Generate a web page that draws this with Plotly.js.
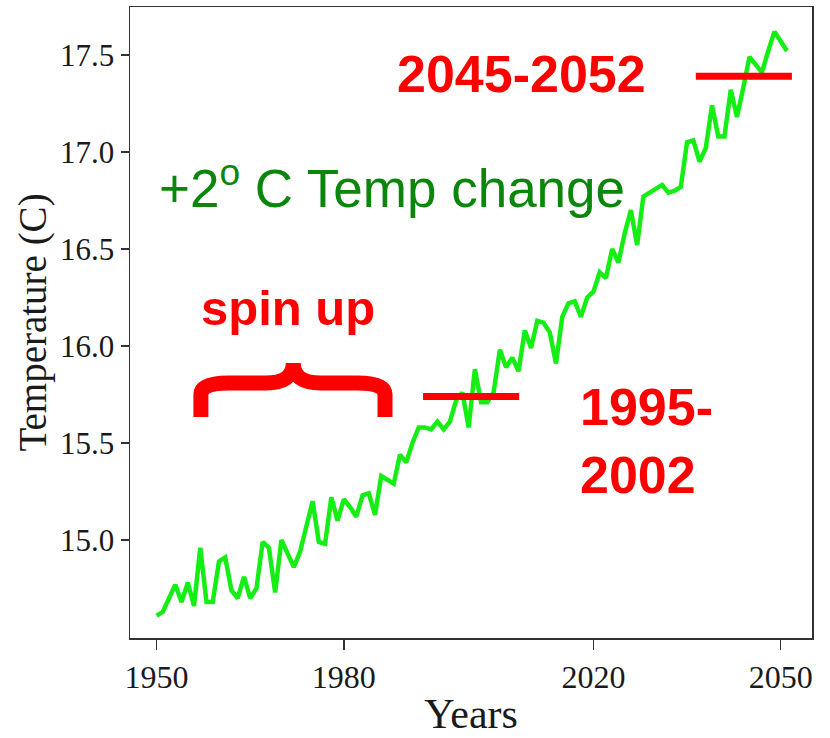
<!DOCTYPE html>
<html>
<head>
<meta charset="utf-8">
<script src="https://cdn.plot.ly/plotly-3.0.1.min.js"></script>
<style>html,body{margin:0;padding:0;background:#fff;}#chart{width:830px;height:738px;}</style>
</head>
<body>
<div id="chart"></div>
<script>
// ---- data ----
const years = [1950,1951,1952,1953,1954,1955,1956,1957,1958,1959,
  1960,1961,1962,1963,1964,1965,1966,1967,1968,1969,
  1970,1971,1972,1973,1974,1975,1976,1977,1978,1979,
  1980,1981,1982,1983,1984,1985,1986,1987,1988,1989,
  1990,1991,1992,1993,1994,1995,1996,1997,1998,1999,
  2000,2001,2002,2003,2004,2005,2006,2007,2008,2009,
  2010,2011,2012,2013,2014,2015,2016,2017,2018,2019,
  2020,2021,2022,2023,2024,2025,2026,2027,2028,2029,
  2030,2031,2032,2033,2034,2035,2036,2037,2038,2039,
  2040,2041,2042,2043,2044,2045,2046,2047,2048,2049,
  2050,2051];
const temperature = [14.61,14.63,14.70,14.77,14.68,14.78,14.66,14.96,14.68,14.68,
  14.89,14.91,14.74,14.70,14.81,14.70,14.75,14.99,14.96,14.73,
  15.00,14.93,14.86,14.94,15.06,15.20,14.99,14.98,15.22,15.10,
  15.21,15.17,15.12,15.23,15.24,15.13,15.33,15.31,15.29,15.44,
  15.40,15.50,15.58,15.58,15.57,15.61,15.57,15.61,15.72,15.76,
  15.58,15.88,15.71,15.71,15.76,15.98,15.89,15.94,15.87,16.08,
  15.99,16.13,16.12,16.07,15.91,16.15,16.22,16.23,16.15,16.25,
  16.28,16.38,16.35,16.50,16.43,16.58,16.70,16.52,16.77,16.79,
  16.81,16.83,16.79,16.80,16.82,17.05,17.06,16.95,17.02,17.24,
  17.08,17.08,17.32,17.18,17.33,17.49,17.45,17.41,17.52,17.62,
  17.57,17.52];
const xTickVals = [1950, 1980, 2020, 2050];
const xTickText = ['1950', '1980', '2020', '2050'];
const yTickVals = [15.0, 15.5, 16.0, 16.5, 17.0, 17.5];
const yTickText = ['15.0', '15.5', '16.0', '16.5', '17.0', '17.5'];

// reference periods (red bars)
const periodA = {x: [1992.7, 2008.1], y: 15.74};
const periodB = {x: [2036.4, 2051.8], y: 17.39};
// spin-up brace extent
const brace = {x0: 1957.1, x1: 1986.6, xm: 1971.9, yBottom: 15.634, yBar: 15.809, yTip: 15.912, dx: 4.4, dy: 0.1};

const labels = {
  temp: '+2<sup>o</sup> C Temp change',
  spin: 'spin up',
  periodA: '1995-<br>2002',
  periodB: '2045-2052'
};

const RED = '#ff0000';
const GREEN_TXT = '#0a870a';
const GREEN_LINE = '#14ee14';

const trace = {
  x: years, y: temperature, type: 'scatter', mode: 'lines',
  line: {color: GREEN_LINE, width: 4.5}, hoverinfo: 'skip'
};

const b = brace;
const bracePath = [
  'M', b.x0, b.yBottom,
  'L', b.x0, b.yBar - b.dy * 0.6,
  'Q', b.x0, b.yBar, b.x0 + b.dx, b.yBar,
  'L', b.xm - b.dx, b.yBar,
  'Q', b.xm, b.yBar, b.xm, b.yTip,
  'Q', b.xm, b.yBar, b.xm + b.dx, b.yBar,
  'L', b.x1 - b.dx, b.yBar,
  'Q', b.x1, b.yBar, b.x1, b.yBar - b.dy * 0.6,
  'L', b.x1, b.yBottom
].join(' ');

const serif = '"Liberation Serif", "Times New Roman", serif';
const sans = '"Liberation Sans", Arial, sans-serif';

const layout = {
  width: 830, height: 738,
  margin: {l: 130, r: 18, t: 7, b: 100},
  paper_bgcolor: '#fff', plot_bgcolor: '#fff',
  showlegend: false,
  xaxis: {
    range: [1945.74, 2055.02],
    tickvals: xTickVals, ticktext: xTickText,
    ticks: 'outside', ticklen: 10, tickwidth: 1.5, tickcolor: '#333',
    showline: true, linecolor: '#333', linewidth: 1.5, mirror: true,
    showgrid: false, zeroline: false,
    tickfont: {family: serif, size: 32, color: '#1a1a1a'},
    title: {text: 'Years', font: {family: serif, size: 42, color: '#1a1a1a'}, standoff: 4}
  },
  yaxis: {
    range: [14.495, 17.747],
    tickvals: yTickVals, ticktext: yTickText,
    ticks: 'outside', ticklen: 8, tickwidth: 1.5, tickcolor: '#333',
    showline: true, linecolor: '#333', linewidth: 1.5, mirror: true,
    showgrid: false, zeroline: false,
    tickfont: {family: serif, size: 31, color: '#1a1a1a'},
    title: {text: 'Temperature (C)', font: {family: serif, size: 39, color: '#1a1a1a'}, standoff: 1}
  },
  shapes: [
    {type: 'line', xref: 'x', yref: 'y', x0: periodA.x[0], x1: periodA.x[1], y0: periodA.y, y1: periodA.y,
     line: {color: RED, width: 7}, layer: 'above'},
    {type: 'line', xref: 'x', yref: 'y', x0: periodB.x[0], x1: periodB.x[1], y0: periodB.y, y1: periodB.y,
     line: {color: RED, width: 7}, layer: 'above'},
    {type: 'path', xref: 'x', yref: 'y', path: bracePath,
     line: {color: RED, width: 15}, layer: 'above'}
  ],
  annotations: [
    {xref: 'x', yref: 'y', x: 1950.0, y: 16.833, xanchor: 'left', yanchor: 'middle', showarrow: false,
     text: labels.temp, font: {family: sans, size: 53, color: GREEN_TXT}},
    {xref: 'x', yref: 'y', x: 1971.13, y: 16.196, xanchor: 'center', yanchor: 'middle', showarrow: false,
     text: '<b>' + labels.spin + '</b>', font: {family: sans, size: 49, color: RED}},
    {xref: 'x', yref: 'y', x: 2017.57, y: 15.512, xanchor: 'left', yanchor: 'middle', showarrow: false, align: 'left',
     text: '<b>' + labels.periodA + '</b>', font: {family: sans, size: 52, color: RED}},
    {xref: 'x', yref: 'y', x: 1988.2, y: 17.404, xanchor: 'left', yanchor: 'middle', showarrow: false,
     text: '<b>' + labels.periodB + '</b>', font: {family: sans, size: 52, color: RED}}
  ]
};

Plotly.newPlot('chart', [trace], layout, {displayModeBar: false, staticPlot: true});
</script>
</body>
</html>
